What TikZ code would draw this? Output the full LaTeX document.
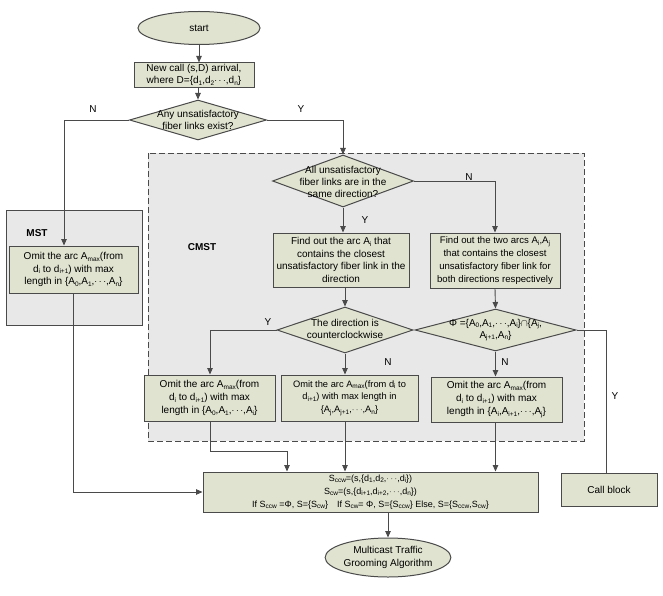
\documentclass[tikz,border=0pt]{standalone}
\usepackage{fontspec}
\setmainfont{Liberation Sans}
\usetikzlibrary{shapes.geometric,arrows.meta}
\definecolor{boxfill}{HTML}{DFE3CF}
\definecolor{regfill}{HTML}{E8E8E8}
\definecolor{edgecol}{HTML}{4A4A4A}
\newcommand\lo[1]{\raisebox{-0.35ex}{\fontsize{6.5}{7}\selectfont #1}}
\newcommand\dts{$\cdots$}
\begin{document}
\begin{tikzpicture}[x=1pt,y=-1pt,
  txtfont/.style={font=\fontsize{10}{12.8}\selectfont},
  box/.style={draw=edgecol, fill=boxfill, line width=1pt, align=center, inner sep=1pt, txtfont},
  dia/.style={diamond, draw=edgecol, fill=boxfill, line width=1pt, inner sep=0pt},
  oval/.style={ellipse, draw=edgecol, fill=boxfill, line width=1pt, inner sep=0pt, align=center, txtfont},
  lbl/.style={align=center, inner sep=0pt, font=\fontsize{10}{12}\selectfont},
  conn/.style={draw=edgecol, line width=0.9pt},
  arr/.style={conn, -{Triangle[length=6.5pt,width=5.5pt]}},
  region/.style={fill=regfill, draw=edgecol, line width=0.8pt},
  yn/.style={inner sep=0pt, font=\fontsize{10}{11}\selectfont}
]
\useasboundingbox (0,0) rectangle (663,596);
\fill[white] (0,0) rectangle (663,596);

% regions
\path[region] (6,210) rectangle (142,325);
\path[region, dash pattern=on 6pt off 3pt] (148,153) rectangle (584,441);
\node[inner sep=0pt, font=\bfseries\fontsize{10}{11}\selectfont] (mstlbl) at (37,233) {MST};
\node[inner sep=0pt, font=\bfseries\fontsize{10}{11}\selectfont] (cmstlbl) at (202,247) {CMST};

% nodes
\node[oval, minimum width=122pt, minimum height=33pt] (start) at (199,28) {start};
\node[box, minimum width=120pt, minimum height=24pt] (nc) at (194,75) {New call (s,D) arrival,\\ where D=\{d\lo{1},d\lo{2}\dts,d\lo{n}\}};
\node[dia, minimum width=137pt, minimum height=40pt] (d1) at (198,120) {};
\node[lbl] (d1t) at (d1) {Any unsatisfactory\\ fiber links exist?};

\node[box, minimum width=129pt, minimum height=47pt] (mst) at (73.5,269.5) {Omit the arc A\lo{max}(from\\ d\lo{i} to d\lo{i+1}) with max\\ length in \{A\lo{0},A\lo{1},\dts,A\lo{n}\}};

\node[dia, minimum width=141pt, minimum height=52pt] (d2) at (343,181) {};
\node[lbl] (d2t) at (343,182) {All unsatisfactory\\ fiber links are in the\\ same direction?};

\node[box, minimum width=136pt, minimum height=54pt] (A) at (341,260) {Find out the arc A\lo{i} that\\ contains the closest\\ unsatisfactory fiber link in the\\ direction};
\node[box, minimum width=130pt, minimum height=55pt, font=\fontsize{9.6}{12.8}\selectfont] (B) at (495,260.5) {Find out the two arcs A\lo{i},A\lo{j}\\ that contains the closest\\ unsatisfactory fiber link for\\ both directions respectively};

\node[dia, minimum width=136pt, minimum height=46pt] (d3) at (345,330) {};
\node[lbl] (d3t) at (345,329) {The direction is\\ counterclockwise};
\node[dia, minimum width=161pt, minimum height=42pt] (d4) at (495.5,330) {};
\node[lbl] (d4t) at (495.5,330) {Φ =\{A\lo{0},A\lo{1},\dts,A\lo{i}\}$\cap$\{A\lo{j},\\ A\lo{j+1},A\lo{n}\}};

\node[box, minimum width=131pt, minimum height=46pt] (C) at (209.5,398) {Omit the arc A\lo{max}(from\\ d\lo{i} to d\lo{i+1}) with max\\ length in \{A\lo{0},A\lo{1},\dts,A\lo{i}\}};
\node[box, minimum width=137pt, minimum height=46pt, font=\fontsize{9.3}{12.8}\selectfont] (D) at (349.5,398) {Omit the arc A\lo{max}(from d\lo{i} to\\ d\lo{i+1}) with max length in\\ \{A\lo{j},A\lo{j+1},\dts,A\lo{n}\}};
\node[box, minimum width=131pt, minimum height=45pt] (E) at (496.5,399.5) {Omit the arc A\lo{max}(from\\ d\lo{i} to d\lo{i+1}) with max\\ length in \{A\lo{i},A\lo{i+1},\dts,A\lo{j}\}};

\node[box, minimum width=335pt, minimum height=40pt, font=\fontsize{9}{13}\selectfont] (M) at (370.5,492) {S\lo{ccw}=(s,\{d\lo{1},d\lo{2},\dts,d\lo{i}\})\\ S\lo{cw}=(s,\{d\lo{i+1},d\lo{i+2},\dts,d\lo{n}\})\\ If S\lo{ccw} =Φ, S=\{S\lo{cw}\}\quad If S\lo{cw}= Φ, S=\{S\lo{ccw}\} Else, S=\{S\lo{ccw},S\lo{cw}\}};
\node[box, minimum width=96pt, minimum height=33pt] (cb) at (609,489.5) {Call block};
\node[oval, minimum width=118pt, minimum height=39pt] (fin) at (388,557.5) {Multicast Traffic\\ Grooming Algorithm};

% connectors
\draw[arr] (start.south) -- (start.south |- nc.north);
\draw[arr] (198,87) -- (d1.north);
\coordinate (n1) at (64,120);
\draw[arr] (d1.west) -- (n1) -- (n1 |- mst.north);
\coordinate (y1) at (343,120);
\draw[arr] (d1.east) -- (y1) -- (d2.north);
\node[yn] (lN1) at (93,109) {N};
\node[yn] (lY1) at (301,109) {Y};

\draw[arr] (d2.south) -- (d2.south |- A.north);
\node[yn] (lY2) at (365,220) {Y};
\coordinate (n2) at (495,181);
\draw[arr] (d2.east) -- (n2) -- (B.north);
\node[yn] (lN2) at (469,177) {N};

\draw[arr] (A.south -| d3.north) -- (d3.north);
\draw[arr] (B.south) -- (d4.north);

\coordinate (y3) at (210,330);
\draw[arr] (d3.west) -- (y3) -- (y3 |- C.north);
\node[yn] (lY3) at (268,322) {Y};
\draw[arr] (d3.south) -- (d3.south |- D.north);
\node[yn] (lN3) at (388,362) {N};

\draw[arr] (d4.south) -- (d4.south |- E.north);
\node[yn] (lN4) at (505,362) {N};
\coordinate (y4) at (606,330);
\draw[conn] (d4.east) -- (y4) -- (y4 |- cb.north);
\node[yn] (lY4) at (615,396) {Y};

\coordinate (c1) at (210,451);
\coordinate (c2) at (287,451);
\draw[arr] (C.south -| c1) -- (c1) -- (c2) -- (c2 |- M.north);
\draw[arr] (D.south -| d3.south) -- (d3.south |- M.north);
\draw[arr] (E.south -| d4.south) -- (d4.south |- M.north);
\coordinate (m1) at (73,492);
\draw[arr] (mst.south -| m1) -- (m1) -- (M.west);
\coordinate (m2) at (388,512);
\draw[arr] (m2) -- (fin.north);
\end{tikzpicture}
\end{document}
